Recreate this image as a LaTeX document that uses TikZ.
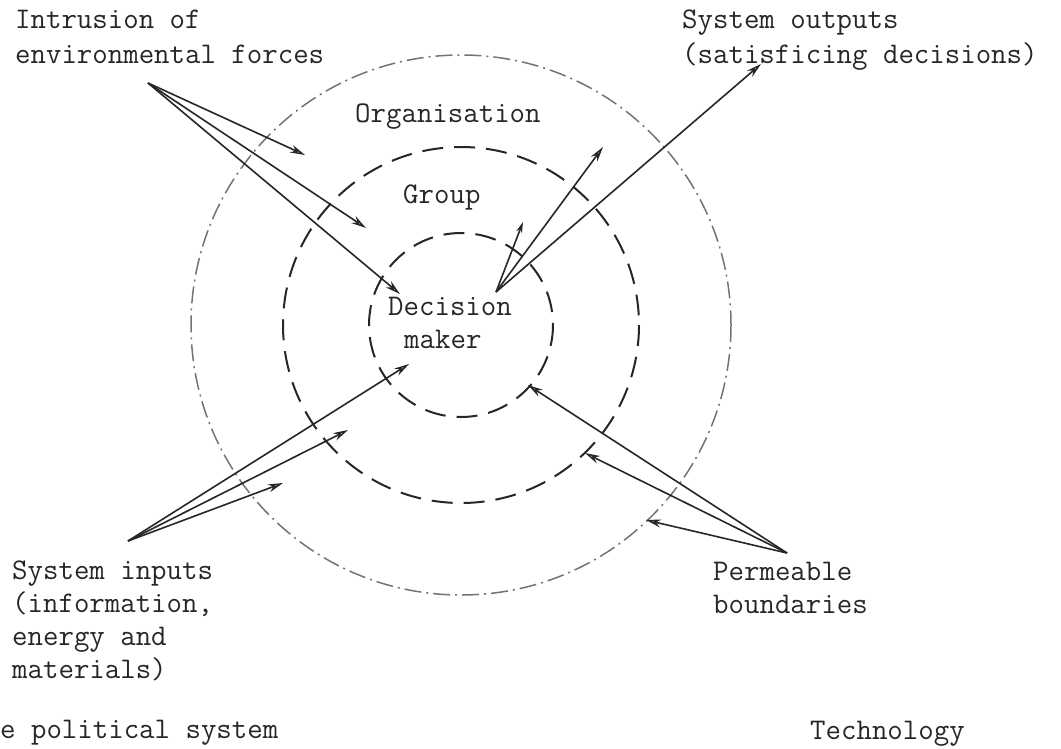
\documentclass[tikz,border=0pt]{standalone}
\usetikzlibrary{arrows.meta}
\begin{document}
\begin{tikzpicture}[x=1pt,y=-1pt,
  lbl/.style={anchor=base west, inner sep=0pt, font=\fontsize{30}{36}\ttfamily, text=black!85},
  ring/.style={line width=2pt, dash pattern=on 21pt off 11pt, draw=black!85},
  outerring/.style={line width=1.5pt, dash pattern=on 17pt off 5pt on 2pt off 5pt, draw=black!55},
  flow/.style={line width=1.6pt, draw=black!85, -{Stealth[length=15pt,width=8pt,open,line width=1.5pt]}},
  smallflow/.style={flow, -{Stealth[length=11pt,width=6pt,open,line width=1.3pt]}},
]
\useasboundingbox (0,0) rectangle (1061,748);

% nested system boundaries
\coordinate (c) at (461,325);
\draw[ring] (c) circle[radius=92];
\draw[ring] (c) circle[radius=178];
\draw[outerring] (c) circle[radius=270];

% labels
\node[lbl] (intr1) at (15,28) {Intrusion of};
\node[lbl] (intr2) at (15,63) {environmental forces};
\node[lbl] (out1) at (682,28) {System outputs};
\node[lbl] (out2) at (682,63) {(satisficing decisions)};
\node[lbl] (org) at (355,122) {Organisation};
\node[lbl] (grp) at (403,203) {Group};
\node[lbl] (dm1) at (388,315) {Decision};
\node[lbl] (dm2) at (404,348) {maker};
\node[lbl] (in1) at (12,579) {System inputs};
\node[lbl] (in2) at (12,612) {(information,};
\node[lbl] (in3) at (12,645) {energy and};
\node[lbl] (in4) at (12,678) {materials)};
\node[lbl] (perm1) at (713,580) {Permeable};
\node[lbl] (perm2) at (713,613) {boundaries};
\node[lbl] (pol) at (0,738) {e political system};
\node[lbl] (tech) at (810,739) {Technology};

% arrow origins and tips
\coordinate (fO) at (148,83);
\coordinate (f1) at (305,155);
\coordinate (f2) at (366,228);
\coordinate (f3) at (400,294);

\coordinate (oO) at (496,292);
\coordinate (o1) at (523,222);
\coordinate (o2) at (603,147);
\coordinate (o3) at (761,64);

\coordinate (iO) at (128,541);
\coordinate (i1) at (409,364);
\coordinate (i2) at (348,430);
\coordinate (i3) at (283,483);

\coordinate (pO) at (787,553);
\coordinate (p1) at (528,385);
\coordinate (p2) at (585,453);
\coordinate (p3) at (646,520);

% environmental forces
\draw[flow] (fO) -- (f1);
\draw[flow] (fO) -- (f2);
\draw[flow] (fO) -- (f3);
% outputs
\draw[smallflow] (oO) -- (o1);
\draw[flow] (oO) -- (o2);
\draw[flow] (oO) -- (o3);
% inputs
\draw[flow] (iO) -- (i1);
\draw[flow] (iO) -- (i2);
\draw[flow] (iO) -- (i3);
% permeable boundaries
\draw[flow] (pO) -- (p1);
\draw[flow] (pO) -- (p2);
\draw[flow] (pO) -- (p3);
\end{tikzpicture}
\end{document}
